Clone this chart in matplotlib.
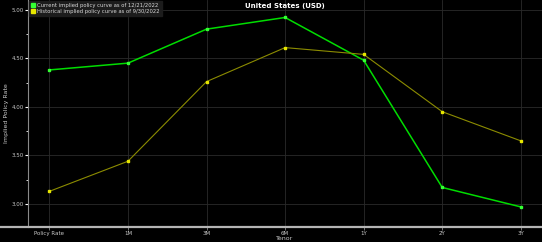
import numpy as np
import matplotlib
matplotlib.use("Agg")
import matplotlib.pyplot as plt
from matplotlib.lines import Line2D
from matplotlib.ticker import MultipleLocator

# tenors and implied policy rates
tenors = ["Policy Rate", "1M", "3M", "6M", "1Y", "2Y", "3Y"]
current = [4.38, 4.45, 4.80, 4.92, 4.48, 3.17, 2.97]
historical = [3.13, 3.44, 4.26, 4.61, 4.54, 3.95, 3.65]
yticks = [3.00, 3.50, 4.00, 4.50, 5.00]

fig = plt.figure(figsize=(5.42, 2.42), dpi=100, facecolor="black")
ax = fig.add_axes([0.052, 0.062, 0.948, 0.938], facecolor="black")

x = np.arange(len(tenors))
ax.plot(x, current, color="#00dd00", lw=1.1, marker="s", ms=1.8,
        mfc="#33ff33", mec="#33ff33",
        label="Current implied policy curve as of 12/21/2022", zorder=3)
ax.plot(x, historical, color="#8c8c00", lw=0.8, marker="s", ms=1.6,
        mfc="#e6e600", mec="#e6e600",
        label="Historical implied policy curve as of 9/30/2022", zorder=3)

ax.set_xlim(-0.27, 6.27)
ax.set_ylim(2.763, 5.10)
ax.set_xticks(x)
ax.set_xticklabels(tenors)
ax.set_yticks(yticks)
ax.set_yticklabels([f"{v:.2f}" for v in yticks])
ax.yaxis.set_minor_locator(MultipleLocator(0.25))

ax.grid(True, color="#2a2a2a", lw=0.6)
ax.set_axisbelow(True)
ax.tick_params(axis="y", colors="white", labelcolor="#c8c8c8", labelsize=4,
               length=2, width=0.8, pad=1)
ax.tick_params(axis="y", which="minor", colors="white", length=1.2, width=0.6)
ax.tick_params(axis="x", colors="#888888", labelcolor="#c8c8c8", labelsize=4,
               length=2, width=0.6, pad=1)

for s in ["top", "right"]:
    ax.spines[s].set_visible(False)
ax.spines["left"].set_color("#8a8a8a")
ax.spines["left"].set_linewidth(0.8)
ax.spines["bottom"].set_visible(False)

# light grey base line running across the whole figure
fig.add_artist(Line2D([0, 1], [0.062, 0.062], transform=fig.transFigure,
                      color="#b4b4b4", lw=1.6))

ax.set_ylabel("Implied Policy Rate", color="#c8c8c8", fontsize=4.5, labelpad=2)
ax.set_xlabel("Tenor", color="#c8c8c8", fontsize=4.5, labelpad=0)
ax.set_title("United States (USD)", color="white", fontsize=5,
             fontweight="bold", pad=-6, x=0.5, y=1.0)

leg = ax.legend(loc="upper left", fontsize=3.8, frameon=True, fancybox=False,
                facecolor="#1c1c1c", edgecolor="#1c1c1c", framealpha=1,
                handlelength=0.6, handletextpad=0.5, borderpad=0.4,
                labelspacing=0.2, borderaxespad=0.2)
for line in leg.get_lines():
    line.set_linestyle("none")
    line.set_markersize(2.6)
for t in leg.get_texts():
    t.set_color("#d8d8d8")

fig.savefig("out.png", dpi=100, facecolor="black")
